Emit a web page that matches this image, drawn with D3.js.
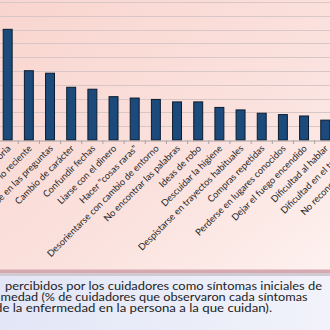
<!DOCTYPE html>
<html><head><meta charset="utf-8">
<script src="https://cdn.jsdelivr.net/npm/d3@7"></script>
<style>html,body{margin:0;padding:0;overflow:hidden;background:#fff}svg{display:block}</style>
</head><body>
<script>
const categories = ["Pérdida de memoria","Olvidar lo reciente","Repetirse en las preguntas","Cambio de carácter","Confundir fechas","Liarse con el dinero","Hacer \"cosas raras\"","Desorientarse con cambio de entorno","No encontrar las palabras","Ideas de robo","Descuidar la higiene","Despistarse en trayectos habituales","Compras repetidas","Perderse en lugares conocidos","Dejar el fuego encendido","Dificultad al hablar","Dificultad en el trabajo","No reconocer personas"];
const values = [40.1,25.1,24.2,19.1,18.4,15.7,15.2,14.7,13.8,13.8,11.8,10.9,9.7,9.2,8.7,7.2,6.4,5.6];
const yTicks = [5,10,15,20,25,30,35,40,45,50];
const captionLines = ["percibidos por los cuidadores como síntomas iniciales de","medad (% de cuidadores que observaron cada síntomas","de la enfermedad en la persona a la que cuidan)."];

const W = 330, H = 330;
const svg = d3.select("body").append("svg").attr("width", W).attr("height", H);
const defs = svg.append("defs");
const g1 = defs.append("linearGradient").attr("id","pinkbg").attr("x1","0").attr("y1","0").attr("x2","1").attr("y2","1");
g1.append("stop").attr("offset","0").attr("stop-color","#f9d5cf");
g1.append("stop").attr("offset","0.6").attr("stop-color","#fbe2de");
g1.append("stop").attr("offset","1").attr("stop-color","#fdf1ef");
const g2 = defs.append("linearGradient").attr("id","bluebg").attr("x1","0").attr("y1","0").attr("x2","1").attr("y2","0");
g2.append("stop").attr("offset","0").attr("stop-color","#e2e6f6");
g2.append("stop").attr("offset","1").attr("stop-color","#f1f2fa");

svg.append("rect").attr("x",0).attr("y",0).attr("width",W).attr("height",270).attr("fill","url(#pinkbg)");
svg.append("rect").attr("x",0).attr("y",269.5).attr("width",W).attr("height",3.5).attr("fill","#d6a9b0");
svg.append("rect").attr("x",0).attr("y",273).attr("width",W).attr("height",3).attr("fill","#d2cad2");
svg.append("rect").attr("x",0).attr("y",276).attr("width",W).attr("height",H-276).attr("fill","url(#bluebg)");

const x = d3.scaleBand().domain(categories).range([-2.9, -2.9 + 21.17*categories.length]).paddingInner(0.53).paddingOuter(0.265);
const y = d3.scaleLinear().domain([0,50]).range([140,2]);

// gridlines
svg.append("g").selectAll("line").data(yTicks).join("line")
  .attr("x1",0).attr("x2",W).attr("y1",d=>Math.round(y(d))+0.5).attr("y2",d=>Math.round(y(d))+0.5)
  .attr("stroke","#d9c6c6").attr("stroke-width",1);

// bars
svg.append("g").selectAll("rect").data(categories).join("rect")
  .attr("x",d=>x(d)+0.5).attr("width",x.bandwidth()-1)
  .attr("y",(d,i)=>y(values[i])).attr("height",(d,i)=>y(0)-y(values[i]))
  .attr("fill","#1c4a7a").attr("stroke","#0b1c2e").attr("stroke-width",1);

// baseline and ticks
const xAxis = d3.axisBottom(x).tickSize(0).tickFormat("");
const ax = svg.append("g").attr("transform","translate(0,140.5)").call(xAxis);
ax.select(".domain").attr("stroke","#a9a2a4");
const bounds = categories.map(c => x(c) - x.step()*x.paddingInner()/2);
svg.append("g").selectAll("line").data(bounds).join("line")
  .attr("x1",d=>d).attr("x2",d=>d).attr("y1",140.5).attr("y2",144)
  .attr("stroke","#a9a2a4").attr("stroke-width",1);

// labels
svg.append("g").selectAll("text").data(categories).join("text")
  .attr("transform",d=>`translate(${x(d)+x.bandwidth()/2+3.5},149) rotate(-45)`)
  .attr("text-anchor","end")
  .attr("font-family","Lato, 'Open Sans', sans-serif")
  .attr("font-size",9.3)
  .attr("fill","#262626")
  .text(d=>d);

// caption
const capX = [5, 0.5, -5];
const capY = [289.5, 300.8, 312];
const capEnd = [322, 307.5, 272];
svg.append("g").selectAll("text").data(captionLines).join("text")
  .attr("x",(d,i)=>capX[i]).attr("y",(d,i)=>capY[i])
  .attr("textLength",(d,i)=>capEnd[i]-capX[i]).attr("lengthAdjust","spacingAndGlyphs")
  .attr("font-family","Lato, 'Open Sans', sans-serif")
  .attr("font-size",11)
  .attr("fill","#1e1e1e")
  .text(d=>d);
</script>
</body></html>
